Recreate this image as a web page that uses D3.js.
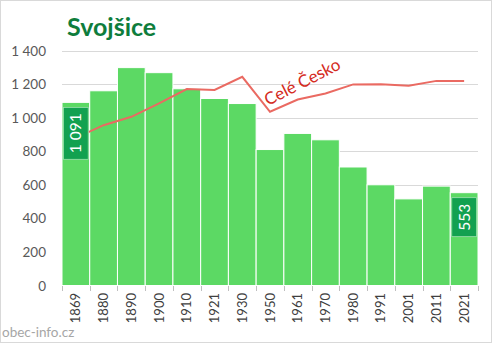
<!DOCTYPE html>
<html><head><meta charset="utf-8">
<script src="https://cdn.jsdelivr.net/npm/d3@7"></script>
<style>
html,body{margin:0;padding:0;background:#fff;}
svg{display:block;font-family:Lato,"Open Sans",sans-serif;}
</style></head>
<body>
<svg id="chart" width="492" height="343"></svg>
<script>
const years = ["1869","1880","1890","1900","1910","1921","1930","1950","1961","1970","1980","1991","2001","2011","2021"];
const population = [1091,1160,1298,1268,1172,1114,1084,810,906,868,706,600,516,592,553];
const czechia = [880,955,1005,1085,1170,1165,1243,1035,1108,1144,1198,1199,1190,1219,1219];
const yTicks = [0,200,400,600,800,1000,1200,1400];
const title = "Svojšice";
const lineLabel = "Celé Česko";
const source = "obec-info.cz";

const svg = d3.select("#chart");
const W = 492, H = 343;
const fmt = v => d3.format(",")(v).replace(/,/g, " ");

svg.append("rect").attr("x",0.5).attr("y",0.5).attr("width",W-1).attr("height",H-1)
  .attr("fill","#fff").attr("stroke","#d9d9d9");

const x = d3.scaleBand().domain(years).range([62,478]).padding(0);
const y = d3.scaleLinear().domain([0,1400]).range([285.5,50.5]);

// gridlines
svg.append("g").selectAll("line").data(yTicks.filter(d=>d>0)).join("line")
  .attr("x1",62).attr("x2",478)
  .attr("y1",d=>Math.round(y(d))+0.5).attr("y2",d=>Math.round(y(d))+0.5)
  .attr("stroke","#d9d9d9").attr("stroke-width",1);

// y labels
svg.append("g").selectAll("text").data(yTicks).join("text")
  .attr("x",46).attr("y",d=>y(d)+5)
  .attr("text-anchor","end").attr("font-size",13.5).attr("fill","#595959")
  .text(d=>fmt(d));

// bars
svg.append("g").selectAll("rect").data(years).join("rect")
  .attr("x",d=>x(d)).attr("width",x.bandwidth())
  .attr("y",(d,i)=>y(population[i])).attr("height",(d,i)=>y(0)-y(population[i]))
  .attr("fill","#5cd964").attr("stroke","#ffffff").attr("stroke-width",1);

// x axis ticks
const tickPos = years.map(d=>x(d)).concat([x.range()[1]]);
svg.append("g").selectAll("line").data(tickPos).join("line")
  .attr("x1",d=>Math.round(d)+0.5).attr("x2",d=>Math.round(d)+0.5)
  .attr("y1",286).attr("y2",291).attr("stroke","#bfbfbf");

// x labels
svg.append("g").selectAll("text").data(years).join("text")
  .attr("transform",d=>`translate(${x(d)+x.bandwidth()/2+4.5},293) rotate(-90)`)
  .attr("text-anchor","end").attr("font-size",13).attr("fill","#404040")
  .text(d=>d);

// Czech line
const line = d3.line().x((d,i)=>x(years[i])+x.bandwidth()/2).y(d=>y(d));
svg.append("path").datum(czechia).attr("d",line)
  .attr("fill","none").attr("stroke","#ea6a62").attr("stroke-width",2);

svg.append("text").attr("transform","translate(268,106) rotate(-27)")
  .attr("font-size",17).attr("fill","#d42a22").text(lineLabel);

// value labels for first and last bar
[0, years.length-1].forEach(i=>{
  const cx = x(years[i]) + x.bandwidth()/2;
  const top = y(population[i]) + 5;
  const g = svg.append("g");
  const t = g.append("text").attr("font-size",15.5).attr("fill","#fff")
    .attr("text-anchor","middle").text(fmt(population[i]));
  const len = t.node().getComputedTextLength();
  const h = len + 12;
  g.insert("rect","text").attr("x",x(years[i])+1.5).attr("width",x.bandwidth()-3)
    .attr("y",top).attr("height",h)
    .attr("fill","#12a150").attr("stroke","#9fe0b0").attr("stroke-width",0.8);
  t.attr("transform",`translate(${cx+5.5},${top+h/2}) rotate(-90)`);
});

// title
svg.append("text").attr("x",67).attr("y",36).attr("font-size",25).attr("font-weight","bold")
  .attr("fill","#0e7d3c").text(title);

// source
svg.append("text").attr("x",2).attr("y",337).attr("font-size",13.5).attr("fill","#a6a6a6").text(source);
</script>
</body></html>
